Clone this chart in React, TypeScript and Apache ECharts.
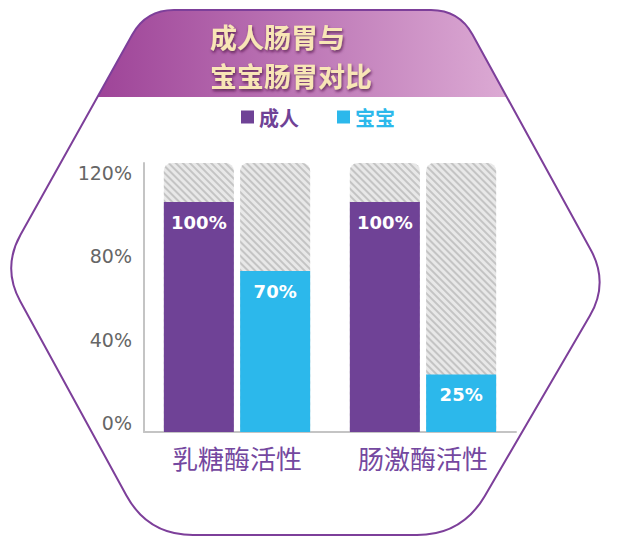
import { useEffect, useRef } from 'react';
import * as echarts from 'echarts';

// 数据
const categories = ['乳糖酶活性', '肠激酶活性'];
const adultValues = [100, 100];
const babyValues = [70, 25];
const backgroundLevel = [117, 117];
const tickMax = 120;
const tickStep = 40;

const PURPLE = '#6f4296';
const CYAN = '#2cb8eb';
const FRAME = '#7d3f9a';

type Pt = [number, number];

// rounded polygon path (decoration only)
const roundedPath = (pts: Pt[], radii: number[], closed: boolean) => {
    const towards = (a: Pt, b: Pt, d: number): Pt => {
        const dx = b[0] - a[0];
        const dy = b[1] - a[1];
        const len = Math.hypot(dx, dy);
        return [a[0] + (dx / len) * d, a[1] + (dy / len) * d];
    };
    const n = pts.length;
    let d = '';
    for (let i = 0; i < n; i++) {
        const p = pts[i];
        const r = radii[i];
        if (!closed && (i === 0 || i === n - 1)) {
            d += (i === 0 ? 'M' : 'L') + p[0] + ' ' + p[1] + ' ';
            continue;
        }
        const prev = pts[(i - 1 + n) % n];
        const next = pts[(i + 1) % n];
        const a = towards(p, prev, r);
        const b = towards(p, next, r);
        d += (d === '' ? 'M' : 'L') + a[0] + ' ' + a[1] + ' ';
        d += 'Q' + p[0] + ' ' + p[1] + ' ' + b[0] + ' ' + b[1] + ' ';
    }
    return d + 'Z';
};

const hexPts: Pt[] = [[146, 10], [459, 10], [609, 283], [462, 535], [148, 535], [2, 268]];
const hexRadii = [28, 28, 38, 45, 45, 38];
const capPts: Pt[] = [[97.4, 97], [146, 10], [459, 10], [506.8, 97]];

echarts.graphic.registerShape('hexFrame', echarts.graphic.extendPath(roundedPath(hexPts, hexRadii, true), {}));
echarts.graphic.registerShape('hexCap', echarts.graphic.extendPath(roundedPath(capPts, [0, 28, 28, 0], false), {}));

const valueLabel = {
    show: true,
    position: 'insideTop' as const,
    distance: 11,
    formatter: '{c}%',
    color: '#fff',
    fontSize: 18,
    fontWeight: 'bold' as const,
    fontFamily: 'DejaVu Sans',
};

const hatch = {
    symbol: 'rect',
    symbolSize: 1,
    dashArrayX: [1, 0],
    dashArrayY: [2, 3],
    rotation: Math.PI / 4,
    color: '#c4c4c4',
};

const App = () => {
    const chartRef = useRef<HTMLDivElement>(null);

    useEffect(() => {
        const chart = echarts.init(chartRef.current!, null, { renderer: 'svg' });

        chart.setOption({
            animation: false,
            backgroundColor: '#fff',
            title: {
                text: '成人肠胃与\n宝宝肠胃对比',
                left: 210,
                top: 17,
                padding: 0,
                textStyle: {
                    color: '#f8e6b6',
                    fontSize: 27,
                    lineHeight: 39,
                    fontWeight: 'bold',
                    fontFamily: 'Noto Sans CJK SC',
                    textShadowColor: 'rgba(70,20,60,0.75)',
                    textShadowBlur: 3,
                    textShadowOffsetX: 1,
                    textShadowOffsetY: 2,
                },
            },
            legend: {
                data: [
                    { name: '成人', textStyle: { color: PURPLE } },
                    { name: '宝宝', textStyle: { color: CYAN } },
                ],
                icon: 'rect',
                itemWidth: 13,
                itemHeight: 13,
                itemGap: 38,
                left: 241,
                top: 107,
                padding: 0,
                selectedMode: false,
                textStyle: { fontSize: 20, fontWeight: 'bold', fontFamily: 'Noto Sans CJK SC' },
            },
            graphic: [
                {
                    type: 'hexCap',
                    x: 0,
                    y: 0,
                    z: 0,
                    silent: true,
                    style: {
                        fill: new echarts.graphic.LinearGradient(0, 0, 1, 0, [
                            { offset: 0, color: '#9e4498' },
                            { offset: 1, color: '#dcaad4' },
                        ]),
                    },
                },
                {
                    type: 'hexFrame',
                    x: 0,
                    y: 0,
                    z: 1,
                    silent: true,
                    style: { fill: 'none', stroke: FRAME, lineWidth: 2 },
                },
            ],
            grid: [
                { left: 140, width: 10, top: 172.5, bottom: 122 },
                { left: 144, right: 106, top: 163, bottom: 113 },
            ],
            xAxis: [
                {
                    type: 'category',
                    gridIndex: 1,
                    data: categories,
                    axisLine: { lineStyle: { color: '#c4c4c4', width: 2 } },
                    axisTick: { show: false },
                    axisLabel: {
                        color: '#7448a0',
                        fontSize: 26,
                        margin: 12,
                        fontFamily: 'Noto Sans CJK SC',
                    },
                },
                { type: 'category', gridIndex: 1, data: categories, show: false },
                { type: 'value', gridIndex: 0, min: 0, max: 1, show: false },
            ],
            yAxis: [
                {
                    type: 'value',
                    gridIndex: 0,
                    min: 0,
                    max: tickMax,
                    interval: tickStep,
                    axisLine: { show: false },
                    axisTick: { show: false },
                    splitLine: { show: false },
                    axisLabel: {
                        formatter: '{value}%',
                        color: '#666',
                        fontSize: 19,
                        fontFamily: 'DejaVu Sans',
                        margin: 8,
                    },
                },
                {
                    type: 'value',
                    gridIndex: 1,
                    min: 0,
                    max: backgroundLevel[0],
                    axisLine: { show: true, lineStyle: { color: '#c4c4c4', width: 2 } },
                    axisTick: { show: false },
                    splitLine: { show: false },
                    axisLabel: { show: false },
                },
            ],
            series: [
                {
                    name: 'bgAdult',
                    type: 'bar',
                    xAxisIndex: 1,
                    yAxisIndex: 1,
                    data: backgroundLevel,
                    barWidth: 70,
                    barGap: '9%',
                    silent: true,
                    z: 1,
                    itemStyle: { color: '#e8e8e8', borderRadius: [8, 8, 0, 0], decal: hatch },
                },
                {
                    name: 'bgBaby',
                    type: 'bar',
                    xAxisIndex: 1,
                    yAxisIndex: 1,
                    data: backgroundLevel,
                    barWidth: 70,
                    barGap: '9%',
                    silent: true,
                    z: 1,
                    itemStyle: { color: '#e8e8e8', borderRadius: [8, 8, 0, 0], decal: hatch },
                },
                {
                    name: '成人',
                    type: 'bar',
                    xAxisIndex: 0,
                    yAxisIndex: 1,
                    data: adultValues,
                    barWidth: 70,
                    barGap: '9%',
                    z: 2,
                    itemStyle: { color: PURPLE },
                    label: valueLabel,
                },
                {
                    name: '宝宝',
                    type: 'bar',
                    xAxisIndex: 0,
                    yAxisIndex: 1,
                    data: babyValues,
                    barWidth: 70,
                    barGap: '9%',
                    z: 2,
                    itemStyle: { color: CYAN },
                    label: valueLabel,
                },
            ],
        });

        return () => {
            chart.dispose();
        };
    }, []);

    return (
        <div
            ref={chartRef}
            style={{ position: 'fixed', left: 0, top: 0, width: '622px', height: '545px' }}
        />
    );
};

export default App;
